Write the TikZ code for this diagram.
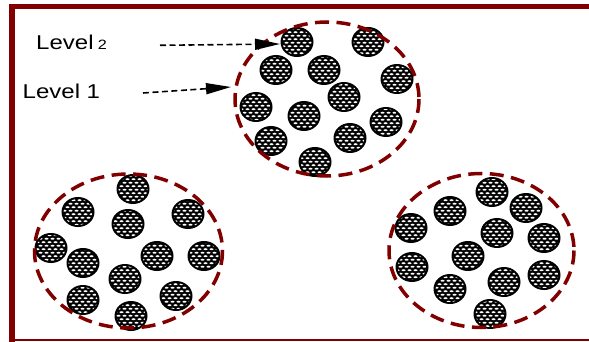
\documentclass[tikz,border=0pt]{standalone}
\usepackage{fontspec}
\setmainfont{Liberation Sans}
\usetikzlibrary{patterns,arrows.meta}

\definecolor{rimred}{RGB}{128,0,0}

% white staggered dashes that speckle each granule
\pgfdeclarepatternformonly{granule dots}{\pgfqpoint{-1pt}{-1pt}}{\pgfqpoint{8pt}{8pt}}{\pgfqpoint{6pt}{7pt}}{%
  \pgfpathellipse{\pgfqpoint{1.5pt}{1.75pt}}{\pgfqpoint{2pt}{0pt}}{\pgfqpoint{0pt}{1pt}}%
  \pgfpathellipse{\pgfqpoint{4.5pt}{5.25pt}}{\pgfqpoint{2pt}{0pt}}{\pgfqpoint{0pt}{1pt}}%
  \pgfusepath{fill}%
}

\tikzset{
  granule/.pic={
    \fill[black] (0,0) ellipse [x radius=16.5, y radius=15];
    \fill[pattern=granule dots, pattern color=white] (0,0) ellipse [x radius=14.5, y radius=13];
  },
  cluster/.style={draw=rimred, line width=3.5pt, dash pattern=on 14pt off 7.5pt},
  framebar/.style={draw=rimred, line width=5.5pt},
  pointer/.style={black, line width=1.6pt, dash pattern=on 6pt off 3.5pt,
    -{Triangle[length=25pt,width=11pt]}},
  levellabel/.style={inner sep=0pt, anchor=base west, xscale=1.2,
    font=\fontsize{20}{20}\selectfont},
}

\begin{document}
\begin{tikzpicture}[x=1pt, y=-1pt]
\useasboundingbox (0,0) rectangle (589,342);

% frame
\draw[framebar] (589,6.7) -- (12,6.7) -- (12,342);
\draw[draw=rimred, line width=2pt] (12,340) -- (589,340);

% granules of the upper cluster
\foreach \x/\y in {297/42, 368/42, 276/70, 324/70, 397/79, 344/97,
                   256/107, 304/116, 386/122, 271/141, 350/138, 315/162}
  \pic at (\x,\y) {granule};
% granules of the lower left cluster
\foreach \x/\y in {133/189, 78/212, 188/214, 128/224, 51/248, 204/256,
                   157/256, 83/263, 125/279, 83/300, 176/296, 131/316}
  \pic at (\x,\y) {granule};
% granules of the lower right cluster
\foreach \x/\y in {492/192, 526/208, 450/211, 411/228, 497/233, 544/238,
                   468/256, 412/267, 544/275, 504/282, 450/289, 490/314}
  \pic at (\x,\y) {granule};

% cluster outlines
\draw[cluster] (327,99) ellipse [x radius=92, y radius=77];
\draw[cluster] (128.5,251) ellipse [x radius=94, y radius=77];
\draw[cluster] (481.5,250.5) ellipse [x radius=92.5, y radius=77];

% labels and pointers
\node[levellabel] (lvtwo) at (36,50) {Level\hspace{3.5pt}{\fontsize{13.5}{13.5}\selectfont 2}};
\node[levellabel] (lvone) at (22.5,98.5) {Level 1};

\coordinate (lvtwo-from) at (160,45.3);
\coordinate (lvtwo-to) at (280,44);
\coordinate (lvone-from) at (143,93);
\coordinate (lvone-to) at (231,87);

\draw[pointer] (lvtwo-from) -- (lvtwo-to);
\draw[pointer] (lvone-from) -- (lvone-to);
\end{tikzpicture}
\end{document}
